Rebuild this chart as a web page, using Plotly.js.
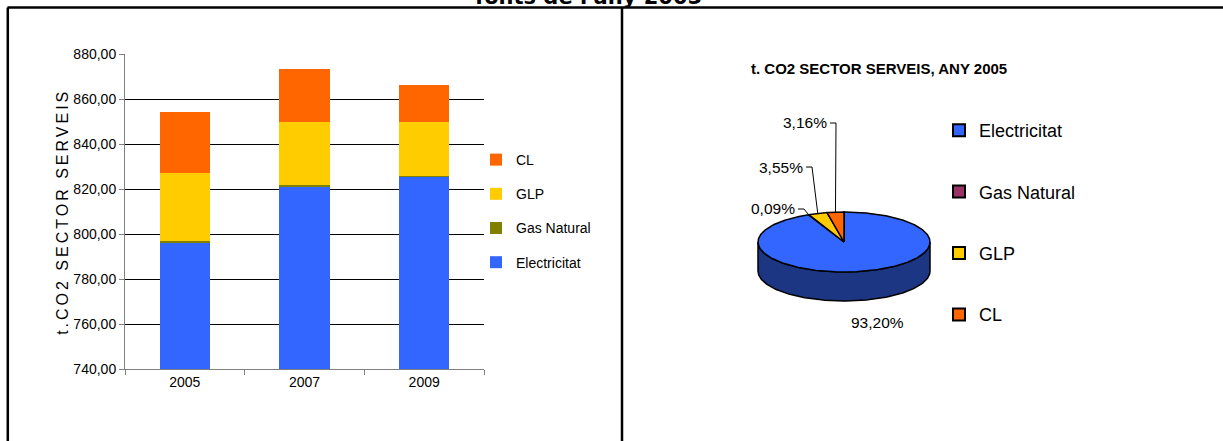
<!DOCTYPE html>
<html>
<head>
<meta charset="utf-8">
<script src="https://cdn.plot.ly/plotly-3.0.1.min.js"></script>
<style>
  html, body { margin: 0; padding: 0; background: #fff; }
  #chart { width: 1223px; height: 441px; }
  .ytitle { letter-spacing: 3px; }
</style>
</head>
<body>
<div id="chart"></div>
<script>
// ---------- DATA ----------
const years = ['2005', '2007', '2009'];
const electricitat = [796.3, 821.0, 825.3];
const gasNatural = [0.8, 1.0, 0.8];
const glp = [30.3, 27.9, 23.8];
const cl = [27.0, 23.6, 16.5];
const barSeriesNames = ['Electricitat', 'Gas Natural', 'GLP', 'CL'];

const pieTitle = 't. CO2 SECTOR SERVEIS, ANY 2005';
const pieLabels = ['Electricitat', 'Gas Natural', 'GLP', 'CL'];
const pieValues = [93.20, 0.09, 3.55, 3.16];

const yAxisTitle = 't.CO2 SECTOR SERVEIS';
const pageTitle = "fonts de l'any 2005";

// ---------- STYLE / LAYOUT CONSTANTS ----------
const W = 1223, H = 441;
const px = x => x / W;
const py = y => 1 - y / H;
const FONT = '"Liberation Sans", Arial, sans-serif';
const barColors = ['#3366FF', '#808000', '#FFCC00', '#FF6600'];
const pieColors = ['#3366FF', '#993366', '#FFCC00', '#FF6600'];
const pieSideColors = ['#1C3683', '#4D1933', '#806600', '#803300'];

// pie geometry (axis units: 86 px per unit)
const UNIT = 86, CX = 844, CY = 242;
const RY = 30 / UNIT, DEPTH = 29 / UNIT;
const ux = x => (x - CX) / UNIT;
const uy = y => (CY - y) / UNIT;

// ---------- BAR TRACES ----------
const barData = [electricitat, gasNatural, glp, cl];
const traces = barData.map((vals, i) => ({
  type: 'bar',
  x: years,
  y: vals,
  name: barSeriesNames[i],
  marker: { color: barColors[i], line: { width: 0 } },
  xaxis: 'x', yaxis: 'y',
  legend: 'legend',
  legendgroup: 'b' + i,
  legendrank: 10 - i,
  hoverinfo: 'x+y+name'
}));

// ---------- 3D-LOOK PIE (computed from pieValues) ----------
function rim(thetaDeg, drop) {
  const t = thetaDeg * Math.PI / 180;
  return [Math.sin(t), Math.cos(t) * RY - (drop || 0)];
}
function arc(a0, a1, drop) {
  const pts = [];
  const n = Math.max(2, Math.ceil(Math.abs(a1 - a0)));
  for (let k = 0; k <= n; k++) pts.push(rim(a0 + (a1 - a0) * k / n, drop));
  return pts;
}
const total = pieValues.reduce((a, b) => a + b, 0);
const angles = [];
let acc = 0;
pieValues.forEach(v => {
  const a0 = acc / total * 360;
  acc += v;
  angles.push([a0, acc / total * 360]);
});

// legend entries for the pie (swatch anchored on each slice's rim midpoint, under the outline)
angles.forEach(([a0, a1], i) => {
  const mid = rim((a0 + a1) / 2, 0);
  traces.push({
    type: 'scatter', mode: 'markers',
    x: [mid[0]], y: [mid[1]],
    name: pieLabels[i],
    marker: { symbol: 'square', size: 0.01, color: pieColors[i], line: { color: '#000', width: 0.5 } },
    xaxis: 'x2', yaxis: 'y2',
    legend: 'legend2', legendgroup: 'p' + i, showlegend: true,
    hoverinfo: 'skip'
  });
});

// side walls (front half: 90..270 deg)
angles.forEach(([a0, a1], i) => {
  const s = Math.max(a0, 90), e = Math.min(a1, 270);
  if (e <= s) return;
  const top = arc(s, e, 0);
  const bot = arc(e, s, DEPTH);
  const pts = top.concat(bot);
  pts.push(top[0]);
  traces.push({
    type: 'scatter', mode: 'lines', fill: 'toself',
    x: pts.map(p => p[0]), y: pts.map(p => p[1]),
    fillcolor: pieSideColors[i], line: { color: '#000', width: 1.5 },
    xaxis: 'x2', yaxis: 'y2', showlegend: false, hoverinfo: 'skip'
  });
});

// top face slices
angles.forEach(([a0, a1], i) => {
  const pts = [[0, 0]].concat(arc(a0, a1, 0));
  pts.push([0, 0]);
  traces.push({
    type: 'scatter', mode: 'lines', fill: 'toself',
    x: pts.map(p => p[0]), y: pts.map(p => p[1]),
    name: pieLabels[i],
    fillcolor: pieColors[i], line: { color: '#000', width: 1.5 },
    xaxis: 'x2', yaxis: 'y2',
    showlegend: false,
    hoverinfo: 'name'
  });
});

// percent labels and leader lines
const fmtPct = v => v.toFixed(2).replace('.', ',') + '%';
const labelPos = [
  { x: 877, y: 322, leader: false },  // Electricitat
  { x: 797, y: 209, leader: true },   // Gas Natural
  { x: 805, y: 167, leader: true },   // GLP
  { x: 829, y: 123, leader: true }    // CL
];
const annotations = [];
angles.forEach(([a0, a1], i) => {
  const lp = labelPos[i];
  if (lp.leader) {
    const mid = rim((a0 + a1) / 2, 0);
    traces.push({
      type: 'scatter', mode: 'lines',
      x: [ux(lp.x + 1), ux(lp.x + 7), mid[0]],
      y: [uy(lp.y), uy(lp.y), mid[1]],
      line: { color: '#000', width: 1 },
      xaxis: 'x2', yaxis: 'y2', showlegend: false, hoverinfo: 'skip'
    });
  }
  annotations.push({
    xref: 'paper', yref: 'paper', x: px(lp.x), y: py(lp.y),
    xanchor: lp.leader ? 'right' : 'center', yanchor: 'middle', showarrow: false,
    text: fmtPct(pieValues[i]),
    font: { family: FONT, size: 15.5, color: '#000' }
  });
});

// pie title
annotations.push({
  xref: 'paper', yref: 'paper', x: px(749), y: py(69),
  xanchor: 'left', yanchor: 'middle', showarrow: false,
  text: '<b>' + pieTitle + '</b>',
  font: { family: FONT, size: 15, color: '#000' }
});
// cropped page title at the very top
annotations.push({
  xref: 'paper', yref: 'paper', x: px(588), y: py(11),
  xanchor: 'center', yanchor: 'bottom', showarrow: false,
  text: '<b>' + pageTitle + '</b>',
  font: { family: '"DejaVu Sans", Verdana, sans-serif', size: 21, color: '#000' }
});

// frame lines
const shapes = [
  { type: 'line', xref: 'paper', yref: 'paper', x0: px(7.5), x1: 1, y0: py(7.5), y1: py(7.5), line: { color: '#000', width: 2.5 } },
  { type: 'line', xref: 'paper', yref: 'paper', x0: px(7.8), x1: px(7.8), y0: py(7.5), y1: 0, line: { color: '#000', width: 2.5 } },
  { type: 'line', xref: 'paper', yref: 'paper', x0: px(622), x1: px(622), y0: py(7.5), y1: 0, line: { color: '#000', width: 2.5 } }
];

const layout = {
  width: W, height: H,
  margin: { l: 0, r: 0, t: 0, b: 0, pad: 0 },
  paper_bgcolor: '#fff', plot_bgcolor: 'rgba(0,0,0,0)',
  separators: ',.',
  font: { family: FONT, size: 14, color: '#000' },
  barmode: 'stack',
  bargap: 0.58,
  showlegend: true,
  xaxis: {
    domain: [px(125), px(484)],
    type: 'category',
    tickson: 'boundaries',
    ticks: 'outside', ticklen: 5, tickcolor: '#808080',
    showline: true, linecolor: '#808080', linewidth: 1,
    showgrid: false, zeroline: false,
    tickfont: { family: FONT, size: 14, color: '#000' },
    fixedrange: true
  },
  yaxis: {
    domain: [py(369.3), py(54.3)],
    range: [740, 880],
    dtick: 20, tick0: 740,
    tickformat: '.2f',
    ticks: 'outside', ticklen: 5, tickcolor: '#808080',
    showline: true, linecolor: '#808080', linewidth: 1,
    showgrid: true, gridcolor: '#000', gridwidth: 1,
    zeroline: false,
    tickfont: { family: FONT, size: 14, color: '#000' },
    title: { text: yAxisTitle, font: { family: FONT, size: 16, color: '#000' } },
    fixedrange: true
  },
  xaxis2: {
    domain: [px(740), px(950)],
    range: [ux(740), ux(950)],
    visible: false, fixedrange: true
  },
  yaxis2: {
    domain: [py(315), py(100)],
    range: [uy(315), uy(100)],
    visible: false, fixedrange: true
  },
  legend: {
    x: px(476), y: py(144), xanchor: 'left', yanchor: 'top',
    traceorder: 'grouped', tracegroupgap: 13,
    bgcolor: 'rgba(0,0,0,0)', borderwidth: 0,
    font: { family: FONT, size: 14, color: '#000' }
  },
  legend2: {
    x: px(939), y: py(112), xanchor: 'left', yanchor: 'top',
    traceorder: 'grouped', tracegroupgap: 35,
    itemsizing: 'constant',
    bgcolor: 'rgba(0,0,0,0)', borderwidth: 0,
    font: { family: FONT, size: 18, color: '#000' }
  },
  annotations: annotations,
  shapes: shapes
};

Plotly.newPlot('chart', traces, layout, { displayModeBar: false, staticPlot: true });
</script>
</body>
</html>
